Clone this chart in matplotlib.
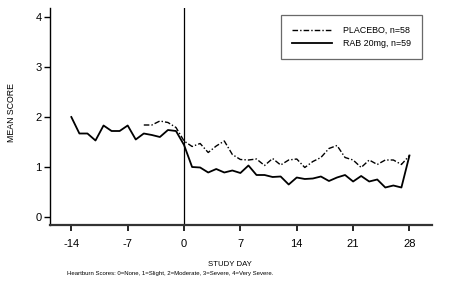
import matplotlib
matplotlib.use("Agg")
import matplotlib.pyplot as plt

plt.rcParams['font.family'] = ['Liberation Sans', 'DejaVu Sans']
plt.rcParams['axes.unicode_minus'] = False

# study days and mean heartburn scores
rab_days = list(range(-14, 29))
rab_scores = [2.0, 1.67, 1.67, 1.53, 1.83, 1.72, 1.72, 1.83, 1.55, 1.67,
              1.64, 1.60, 1.74, 1.72, 1.44, 1.00, 0.99, 0.89, 0.96, 0.89,
              0.93, 0.88, 1.03, 0.84, 0.84, 0.80, 0.81, 0.65, 0.79, 0.76,
              0.77, 0.81, 0.72, 0.79, 0.84, 0.71, 0.82, 0.71, 0.75, 0.59,
              0.63, 0.59, 1.23]

placebo_days = list(range(-5, 29))
placebo_scores = [1.84, 1.84, 1.92, 1.89, 1.79, 1.52, 1.41, 1.47, 1.29, 1.42,
                  1.52, 1.25, 1.15, 1.14, 1.16, 1.03, 1.17, 1.04, 1.14, 1.16,
                  0.99, 1.11, 1.19, 1.37, 1.43, 1.19, 1.14, 0.99, 1.14, 1.05,
                  1.14, 1.14, 1.05, 1.23]

x_ticks = [-14, -7, 0, 7, 14, 21, 28]
y_ticks = [0, 1, 2, 3, 4]

W, H = 463, 281
fig = plt.figure(figsize=(W / 100, H / 100), dpi=100)
ax = fig.add_axes([50 / W, 1 - 225 / H, (432 - 50) / W, (225 - 8) / H])

ax.plot(placebo_days, placebo_scores, color='black', lw=1.0,
        linestyle=(0, (4, 1.5, 1, 1.5)), label='PLACEBO, n=58')
ax.plot(rab_days, rab_scores, color='black', lw=1.3, label='RAB 20mg, n=59')
ax.axvline(0, color='black', lw=0.9)

ax.set_xlim(-16.65, 30.8)
ax.set_ylim(-0.16, 4.18)
ax.set_xticks(x_ticks)
ax.set_yticks(y_ticks)

for s in ['top', 'right']:
    ax.spines[s].set_visible(False)
ax.spines['left'].set_linewidth(1.0)
ax.spines['bottom'].set_linewidth(1.6)
ax.spines['bottom'].set_color('#333333')

ax.tick_params(axis='x', direction='out', length=4, width=1.2,
               labelsize=8, pad=6)
ax.tick_params(axis='y', direction='out', length=4, width=1.0,
               labelsize=8, pad=2)

leg = ax.legend(loc='upper left', bbox_to_anchor=((281 - 50) / 382, 1 - 7 / 217),
                frameon=True, fancybox=False, handlelength=4.5,
                borderpad=1.2, labelspacing=0.5, handletextpad=1.3,
                borderaxespad=0, prop={'size': 6.4})
leg.get_frame().set_edgecolor('#444444')
leg.get_frame().set_linewidth(0.9)

fig.text(12 / W, 1 - 113 / H, 'MEAN SCORE', rotation=90, fontsize=6.3,
         ha='center', va='center')
fig.text(230 / W, 1 - 264 / H, 'STUDY DAY', fontsize=5.6,
         ha='center', va='center')
fig.text(170 / W, 1 - 274 / H,
         'Heartburn Scores: 0=None, 1=Slight, 2=Moderate, 3=Severe, 4=Very Severe.',
         fontsize=4.3, ha='center', va='center')

fig.savefig('out.png', dpi=100)
